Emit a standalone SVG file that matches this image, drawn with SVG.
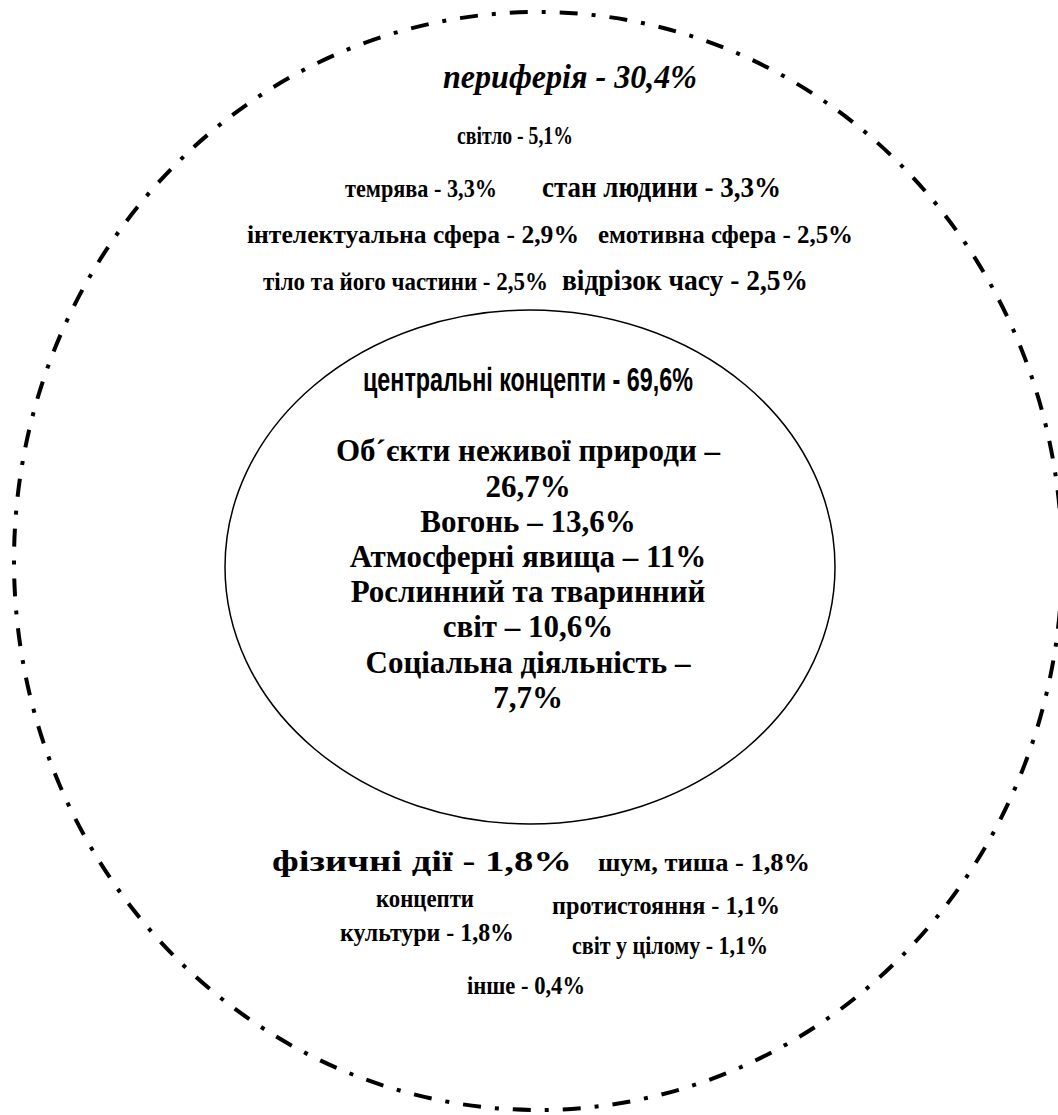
<svg xmlns="http://www.w3.org/2000/svg" width="1058" height="1115" viewBox="0 0 1058 1115">
<style>
.bg{fill:#fff}
.outer{fill:none;stroke:#000;stroke-width:4;stroke-dasharray:18 14 4 14}
.inner{fill:none;stroke:#000;stroke-width:1.5}
text{fill:#000;font-family:"Liberation Serif","DejaVu Serif",serif;font-weight:bold}
.it{font-style:italic;font-size:33px}
.c20{font-size:25px}
.c22{font-size:26px}
.w26{font-size:29px}
.sans{font-family:"Liberation Sans Narrow","Liberation Sans",Arial,sans-serif;font-size:34px}
.in{font-size:31px;text-anchor:middle}
</style>
<rect class="bg" x="0" y="0" width="1058" height="1115"/>
<g id="periphery">
<ellipse class="outer" cx="538" cy="561" rx="524" ry="549"/>
<text class="it" x="443" y="88" textLength="254" lengthAdjust="spacingAndGlyphs">периферія - 30,4%</text>
<text class="c20" x="457" y="144" textLength="116" lengthAdjust="spacingAndGlyphs">світло - 5,1%</text>
<text class="c22" x="345" y="197" textLength="152" lengthAdjust="spacingAndGlyphs">темрява - 3,3%</text>
<text class="w26" x="542" y="197" textLength="239" lengthAdjust="spacingAndGlyphs">стан людини - 3,3%</text>
<text class="c22" x="247" y="243" textLength="332" lengthAdjust="spacingAndGlyphs">інтелектуальна сфера - 2,9%</text>
<text class="c22" x="598" y="243" textLength="255" lengthAdjust="spacingAndGlyphs">емотивна сфера - 2,5%</text>
<text class="c20" x="263" y="290" textLength="285" lengthAdjust="spacingAndGlyphs">тіло та його частини - 2,5%</text>
<text class="w26" x="562" y="290" textLength="246" lengthAdjust="spacingAndGlyphs">відрізок часу - 2,5%</text>
</g>
<g id="core">
<ellipse class="inner" cx="530" cy="567" rx="305" ry="257"/>
<text class="sans" x="363" y="391" textLength="330" lengthAdjust="spacingAndGlyphs">центральні концепти - 69,6%</text>
<text class="in" x="528" y="461">Об´єкти неживої природи –</text>
<text class="in" x="528" y="497">26,7%</text>
<text class="in" x="528" y="532">Вогонь – 13,6%</text>
<text class="in" x="528" y="567">Атмосферні явища – 11%</text>
<text class="in" x="528" y="602">Рослинний та тваринний</text>
<text class="in" x="528" y="637">світ – 10,6%</text>
<text class="in" x="528" y="673">Соціальна діяльність –</text>
<text class="in" x="528" y="708">7,7%</text>
</g>
<g id="periphery-bottom">
<text class="w26" x="272" y="871" textLength="300" lengthAdjust="spacingAndGlyphs">фізичні дії - 1,8%</text>
<text class="c22" x="598" y="871" textLength="212" lengthAdjust="spacingAndGlyphs">шум, тиша - 1,8%</text>
<text class="c20" x="376" y="907" textLength="98" lengthAdjust="spacingAndGlyphs">концепти</text>
<text class="c22" x="340" y="941" textLength="174" lengthAdjust="spacingAndGlyphs">культури - 1,8%</text>
<text class="c22" x="552" y="914" textLength="228" lengthAdjust="spacingAndGlyphs">протистояння - 1,1%</text>
<text class="c20" x="572" y="954" textLength="196" lengthAdjust="spacingAndGlyphs">світ у цілому - 1,1%</text>
<text class="c22" x="467" y="994" textLength="118" lengthAdjust="spacingAndGlyphs">інше - 0,4%</text>
</g>
<g id="connectors"></g>
</svg>
